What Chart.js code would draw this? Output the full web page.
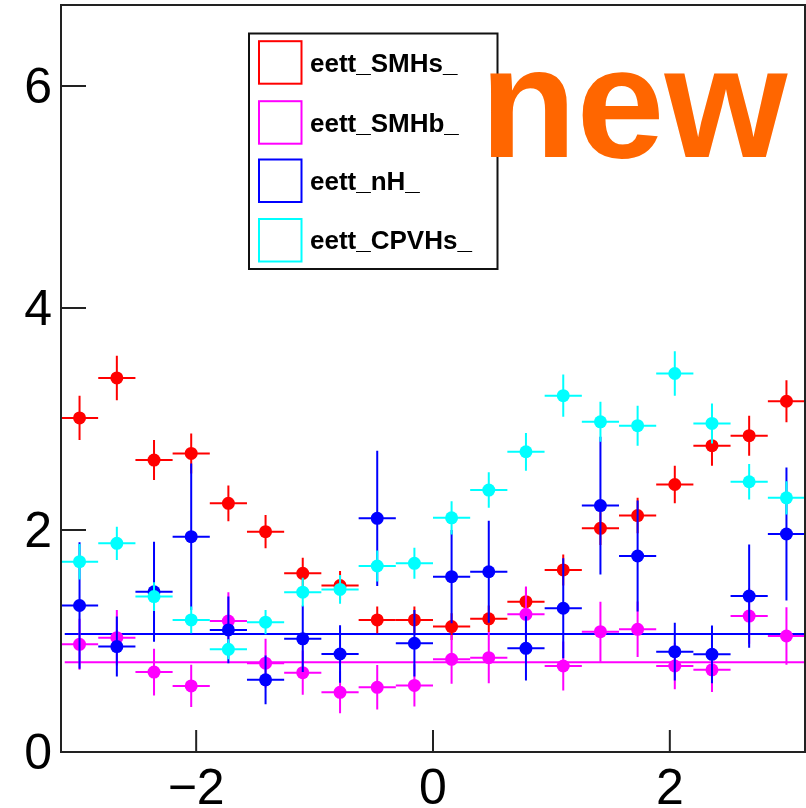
<!DOCTYPE html>
<html>
<head>
<meta charset="utf-8">
<script src="https://cdn.jsdelivr.net/npm/chart.js@4.4.1/dist/chart.umd.min.js"></script>
<style>
html,body{margin:0;padding:0;background:#fff;}
#wrap{width:806px;height:808px;}
</style>
</head>
<body>
<div id="wrap"><canvas id="c" width="806" height="808"></canvas></div>
<script>
// ---- data ----
const binCenters = [-2.985, -2.670, -2.356, -2.042, -1.728, -1.414, -1.100, -0.785, -0.471, -0.157,
                     0.157,  0.471,  0.785,  1.100,  1.414,  1.728,  2.042,  2.356,  2.670,  2.985];
const binHalfWidth = 0.157;

const seriesNames = ['eett_SMHs_', 'eett_SMHb_', 'eett_nH_', 'eett_CPVHs_'];

const smhsValues = [3.01, 3.37, 2.63, 2.69, 2.24, 1.985, 1.61, 1.50, 1.19, 1.19, 1.13, 1.20, 1.354, 1.64, 2.015, 2.13, 2.41, 2.76, 2.85, 3.16];
const smhsErrors = [0.20, 0.20, 0.18, 0.18, 0.16, 0.15, 0.14, 0.13, 0.12, 0.12, 0.12, 0.12, 0.13, 0.14, 0.15, 0.16, 0.17, 0.18, 0.18, 0.19];

const smhbValues = [0.97, 1.03, 0.72, 0.595, 1.18, 0.80, 0.715, 0.538, 0.583, 0.60, 0.835, 0.85, 1.24, 0.775, 1.084, 1.105, 0.775, 0.74, 1.225, 1.045];
const smhbErrors = [0.23, 0.25, 0.21, 0.19, 0.26, 0.22, 0.20, 0.19, 0.20, 0.19, 0.22, 0.23, 0.25, 0.22, 0.27, 0.25, 0.21, 0.20, 0.25, 0.26];

const nhValues = [1.32, 0.95, 1.444, 1.94, 1.10, 0.65, 1.02, 0.883, 2.105, 0.98, 1.58, 1.624, 0.934, 1.295, 2.22, 1.766, 0.904, 0.88, 1.405, 1.964];
const nhErrors = [0.57, 0.27, 0.45, 0.66, 0.30, 0.22, 0.30, 0.26, 0.61, 0.30, 0.42, 0.46, 0.29, 0.45, 0.62, 0.50, 0.26, 0.26, 0.465, 0.60];

const cpvhsValues = [1.715, 1.88, 1.40, 1.19, 0.925, 1.17, 1.44, 1.465, 1.676, 1.70, 2.11, 2.36, 2.705, 3.21, 2.975, 2.94, 3.41, 2.96, 2.435, 2.29];
const cpvhsErrors = [0.16, 0.15, 0.13, 0.12, 0.09, 0.11, 0.13, 0.13, 0.14, 0.14, 0.15, 0.16, 0.17, 0.19, 0.18, 0.18, 0.20, 0.18, 0.16, 0.15];

const fitRange = [-3.11, 3.1416];
const fitLevelNH = 1.063;
const fitLevelSMHb = 0.808;

const xTickValues = [-2, 0, 2];
const yTickValues = [0, 2, 4, 6];
const xRange = [-3.14159, 3.14159];
const yRange = [0, 6.73];
const stampText = 'new';

// ---- styles ----
const colors = ['#ff0000', '#ff00ff', '#0000ff', '#00ffff'];

function pts(vals) { return vals.map((v, i) => ({x: binCenters[i], y: v})); }

function pointSet(i, vals, errs, order) {
  return {
    label: seriesNames[i], data: pts(vals), errY: errs,
    borderColor: colors[i], backgroundColor: colors[i],
    pointRadius: 6.5, pointBorderWidth: 0, pointBackgroundColor: colors[i],
    showLine: false, order: order
  };
}
function fitSet(level, color) {
  return {
    type: 'line', data: fitRange.map(x => ({x: x, y: level})),
    borderColor: color, borderWidth: 2, pointRadius: 0, showLine: true, fill: false, order: 20
  };
}

const errorBars = {
  id: 'errorBars',
  beforeDatasetDraw(chart, args) {
    const ds = chart.data.datasets[args.index];
    if (!ds.errY) return;
    const xs = chart.scales.x, ys = chart.scales.y, c = chart.ctx, a = chart.chartArea;
    c.save();
    c.beginPath(); c.rect(a.left, a.top, a.right - a.left, a.bottom - a.top); c.clip();
    c.strokeStyle = ds.borderColor; c.lineWidth = 2;
    ds.data.forEach((p, i) => {
      const px = xs.getPixelForValue(p.x), py = ys.getPixelForValue(p.y);
      c.beginPath();
      c.moveTo(xs.getPixelForValue(p.x - binHalfWidth), py);
      c.lineTo(xs.getPixelForValue(p.x + binHalfWidth), py);
      c.moveTo(px, ys.getPixelForValue(p.y - ds.errY[i]));
      c.lineTo(px, ys.getPixelForValue(p.y + ds.errY[i]));
      c.stroke();
    });
    c.restore();
  }
};

const frameAndLegend = {
  id: 'frameAndLegend',
  afterDraw(chart) {
    const c = chart.ctx, a = chart.chartArea, xs = chart.scales.x, ys = chart.scales.y;
    c.save();
    // frame
    c.strokeStyle = '#222'; c.lineWidth = 2;
    c.strokeRect(a.left, a.top, a.right - a.left, a.bottom - a.top);
    // ticks (inward)
    c.beginPath();
    yTickValues.forEach(v => { const y = ys.getPixelForValue(v); c.moveTo(a.left, y); c.lineTo(a.left + 25, y); });
    xTickValues.forEach(v => { const x = xs.getPixelForValue(v); c.moveTo(x, a.bottom); c.lineTo(x, a.bottom - 22); });
    c.stroke();
    // legend box
    c.fillStyle = '#fff';
    c.fillRect(249, 33.5, 248.5, 235.5);
    c.strokeStyle = '#111'; c.lineWidth = 2;
    c.strokeRect(249, 33.5, 248.5, 235.5);
    const rowCenters = [62.2, 122.2, 180.5, 240];
    c.font = 'bold 26px "Liberation Sans", Arial, sans-serif';
    c.textBaseline = 'alphabetic'; c.textAlign = 'left';
    seriesNames.forEach((n, i) => {
      const cy = rowCenters[i];
      c.strokeStyle = colors[i]; c.lineWidth = 2;
      c.strokeRect(259, cy - 21, 42.5, 42.5);
      c.fillStyle = '#000';
      c.fillText(n, 310, cy + 9.3);
    });
    // stamp
    c.fillStyle = '#ff6600';
    c.font = 'bold 158px "Liberation Sans", Arial, sans-serif';
    c.fillText(stampText, 480, 156.7);
    c.restore();
  }
};

const tickFont = {family: '"Liberation Sans", Arial, sans-serif', size: 50};

new Chart(document.getElementById('c'), {
  type: 'scatter',
  data: {
    datasets: [
      pointSet(0, smhsValues, smhsErrors, 4),
      pointSet(1, smhbValues, smhbErrors, 3),
      pointSet(2, nhValues, nhErrors, 2),
      pointSet(3, cpvhsValues, cpvhsErrors, 1),
      fitSet(fitLevelNH, colors[2]),
      fitSet(fitLevelSMHb, colors[1])
    ]
  },
  options: {
    responsive: false, animation: false, devicePixelRatio: 1,
    layout: {autoPadding: false, padding: {top: 5, right: 1, left: 0, bottom: 0}},
    plugins: {legend: {display: false}, tooltip: {enabled: false}},
    scales: {
      x: {
        type: 'linear', min: xRange[0], max: xRange[1],
        grid: {display: false, drawTicks: false}, border: {display: false},
        afterBuildTicks: s => { s.ticks = xTickValues.map(v => ({value: v})); },
        afterFit: s => { s.height = 56; s.paddingLeft = 0; s.paddingRight = 0; },
        ticks: {font: tickFont, color: '#000', padding: 8, maxRotation: 0, autoSkip: false,
                callback: v => String(v).replace('-', '\u2212')}
      },
      y: {
        type: 'linear', min: yRange[0], max: yRange[1],
        grid: {display: false, drawTicks: false}, border: {display: false},
        afterBuildTicks: s => { s.ticks = yTickValues.map(v => ({value: v})); },
        afterFit: s => { s.width = 61; s.paddingTop = 0; s.paddingBottom = 0; },
        ticks: {font: tickFont, color: '#000', padding: 9, labelOffset: 3, autoSkip: false}
      }
    }
  },
  plugins: [errorBars, frameAndLegend]
});
</script>
</body>
</html>
